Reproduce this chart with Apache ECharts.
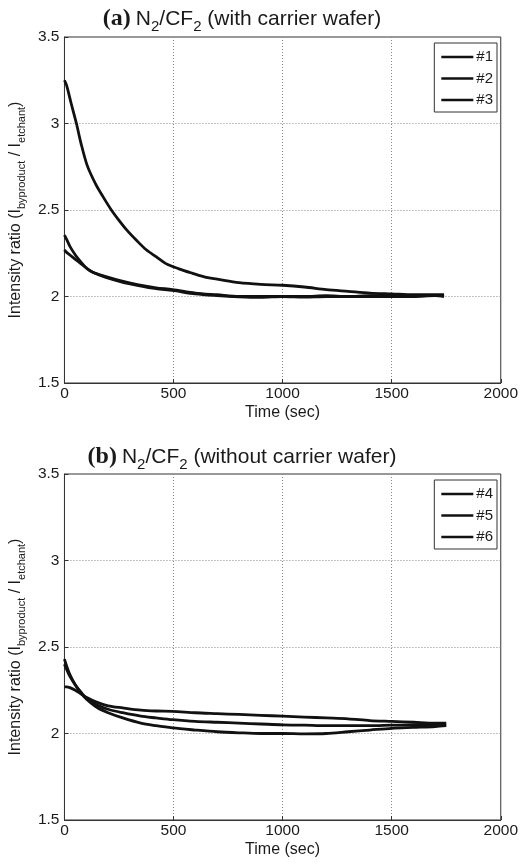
<!DOCTYPE html>
<html><head><meta charset="utf-8">
<script src="https://cdn.jsdelivr.net/npm/echarts@6/dist/echarts.min.js"></script>
<style>html,body{margin:0;padding:0;background:#fff}#c{width:521px;height:864px}</style>
</head><body><div id="c"></div>
<script>
// ---- data ----
// panel (a): with carrier wafer
const time1 = [0, 10, 30, 55, 75, 105, 145, 180, 215, 250, 285, 330, 375, 420, 465, 525, 585, 650, 700, 800, 900, 1000, 1100, 1200, 1300, 1400, 1500, 1600, 1700, 1740];
const run1  = [3.25, 3.22, 3.12, 3.00, 2.89, 2.755, 2.645, 2.57, 2.50, 2.44, 2.385, 2.325, 2.27, 2.23, 2.19, 2.16, 2.135, 2.11, 2.10, 2.08, 2.07, 2.065, 2.055, 2.04, 2.03, 2.02, 2.015, 2.01, 2.01, 2.01];
const time23 = [0, 10, 25, 50, 75, 100, 130, 190, 260, 340, 420, 495, 600, 700, 800, 900, 1000, 1100, 1200, 1300, 1400, 1500, 1600, 1700, 1740];
const run2  = [2.355, 2.33, 2.29, 2.24, 2.20, 2.165, 2.14, 2.115, 2.09, 2.067, 2.05, 2.04, 2.02, 2.01, 2.0, 2.0, 2.0, 2.0, 2.005, 2.0, 2.005, 2.0, 2.005, 2.005, 2.005];
const run3  = [2.27, 2.255, 2.24, 2.215, 2.19, 2.165, 2.14, 2.11, 2.085, 2.063, 2.045, 2.035, 2.015, 2.005, 1.998, 1.995, 2.0, 1.997, 2.0, 2.0, 2.0, 2.0, 2.0, 2.005, 2.0];

// panel (b): without carrier wafer
const timeB = [0, 10, 25, 50, 75, 100, 150, 200, 267, 350, 420, 495, 600, 700, 800, 900, 1000, 1100, 1200, 1300, 1400, 1500, 1600, 1700, 1750];
const run4 = [2.43, 2.39, 2.34, 2.28, 2.235, 2.20, 2.15, 2.12, 2.09, 2.06, 2.045, 2.032, 2.02, 2.01, 2.004, 2.0, 2.0, 1.998, 2.0, 2.01, 2.02, 2.03, 2.035, 2.04, 2.045];
const run5 = [2.40, 2.37, 2.33, 2.28, 2.24, 2.205, 2.165, 2.14, 2.12, 2.10, 2.09, 2.08, 2.07, 2.065, 2.06, 2.055, 2.05, 2.048, 2.045, 2.045, 2.045, 2.048, 2.05, 2.05, 2.05];
const run6 = [2.27, 2.27, 2.265, 2.25, 2.23, 2.21, 2.18, 2.16, 2.148, 2.135, 2.13, 2.128, 2.12, 2.115, 2.11, 2.105, 2.10, 2.095, 2.09, 2.085, 2.075, 2.07, 2.065, 2.06, 2.06];

const namesA = ['#1', '#2', '#3'];
const namesB = ['#4', '#5', '#6'];
const xTicks = [0, 500, 1000, 1500, 2000];
const yTicks = [1.5, 2, 2.5, 3, 3.5];

const pair = (t, v) => t.map((x, i) => [x, v[i]]);

const FONT = "'Liberation Sans', Arial, sans-serif";
const SERIF = "'Liberation Serif', 'Times New Roman', serif";
const chart = echarts.init(document.getElementById('c'), null, {renderer: 'canvas'});

const richLab = {
  n: {fontSize: 16, fontFamily: FONT, color: '#1a1a1a', lineHeight: 22, verticalAlign: 'middle'},
  s: {fontSize: 11, fontFamily: FONT, color: '#1a1a1a', lineHeight: 12, verticalAlign: 'bottom'}
};
const richTitle = {
  b: {fontSize: 24, fontFamily: SERIF, fontWeight: 'bold', color: '#1a1a1a', lineHeight: 30, verticalAlign: 'middle'},
  n: {fontSize: 21, fontFamily: FONT, fontWeight: 'normal', color: '#1a1a1a', lineHeight: 30, verticalAlign: 'middle'},
  s: {fontSize: 15, fontFamily: FONT, fontWeight: 'normal', color: '#1a1a1a', lineHeight: 14, verticalAlign: 'bottom'}
};

const grids = [
  {left: 63, top: 37, width: 439, height: 346},
  {left: 63, top: 474, width: 439, height: 346}
];

function xAxis(i) {
  return {
    type: 'value', gridIndex: i, min: xTicks[0], max: xTicks[xTicks.length - 1], interval: xTicks[1] - xTicks[0],
    name: 'Time (sec)', nameLocation: 'middle', nameGap: 22,
    nameTextStyle: {fontSize: 16, fontFamily: FONT, color: '#1a1a1a'},
    axisLine: {show: true, lineStyle: {color: '#333', width: 1}},
    axisTick: {show: true, inside: true, length: 4, lineStyle: {color: '#333'}},
    axisLabel: {fontSize: 15.5, fontFamily: FONT, color: '#1a1a1a', margin: 3, formatter: v => String(v)},
    splitLine: {show: true, showMinLine: false, showMaxLine: false, lineStyle: {color: '#888', type: [1, 2], width: 1}}
  };
}
function yAxis(i) {
  return {
    type: 'value', gridIndex: i, min: yTicks[0], max: yTicks[yTicks.length - 1], interval: yTicks[1] - yTicks[0],
    name: '{n|Intensity ratio (I}{s|byproduct}{n| / I}{s|etchant}{n|)}',
    nameLocation: 'middle', nameGap: 34, nameRotate: 90,
    nameTextStyle: {rich: richLab},
    axisLine: {show: true, lineStyle: {color: '#333', width: 1}},
    axisTick: {show: true, inside: true, length: 4, lineStyle: {color: '#333'}},
    axisLabel: {fontSize: 15.5, fontFamily: FONT, color: '#1a1a1a', margin: 5, formatter: v => String(v)},
    splitLine: {show: true, showMinLine: false, showMaxLine: false, lineStyle: {color: '#888', type: [1, 2], width: 1}}
  };
}

function line(name, t, v, gi) {
  return {
    type: 'line', name: name, xAxisIndex: gi, yAxisIndex: gi,
    data: pair(t, v), symbol: 'none', smooth: 0.3,
    lineStyle: {color: '#111', width: 2.8}, itemStyle: {color: '#111'},
    animation: false
  };
}

function legend(names, top) {
  return {
    data: names, orient: 'vertical', right: 24, top: top,
    icon: 'rect', itemWidth: 32, itemHeight: 2.5, itemGap: 5.5,
    backgroundColor: '#fff', borderColor: '#333', borderWidth: 1,
    padding: [6, 4, 4, 7],
    textStyle: {fontSize: 15, fontFamily: FONT, color: '#1a1a1a', padding: [0, 0, 0, -2], lineHeight: 16}
  };
}

chart.setOption({
  backgroundColor: '#fff',
  animation: false,
  title: [
    {text: '{b|(a)} {n|N}{s|2}{n|/CF}{s|2}{n| (with carrier wafer)}', left: 242, top: 4, textAlign: 'center',
     padding: 0, textStyle: {rich: richTitle, fontWeight: 'normal'}},
    {text: '{b|(b)} {n|N}{s|2}{n|/CF}{s|2}{n| (without carrier wafer)}', left: 242, top: 442, textAlign: 'center',
     padding: 0, textStyle: {rich: richTitle, fontWeight: 'normal'}}
  ],
  legend: [legend(namesA, 43), legend(namesB, 480)],
  grid: grids.map(g => Object.assign({show: true, borderColor: '#333', borderWidth: 1, backgroundColor: '#fff'}, g)),
  xAxis: [xAxis(0), xAxis(1)],
  yAxis: [yAxis(0), yAxis(1)],
  series: [
    line(namesA[0], time1, run1, 0),
    line(namesA[1], time23, run2, 0),
    line(namesA[2], time23, run3, 0),
    line(namesB[0], timeB, run4, 1),
    line(namesB[1], timeB, run5, 1),
    line(namesB[2], timeB, run6, 1)
  ]
});
</script>
</body></html>
